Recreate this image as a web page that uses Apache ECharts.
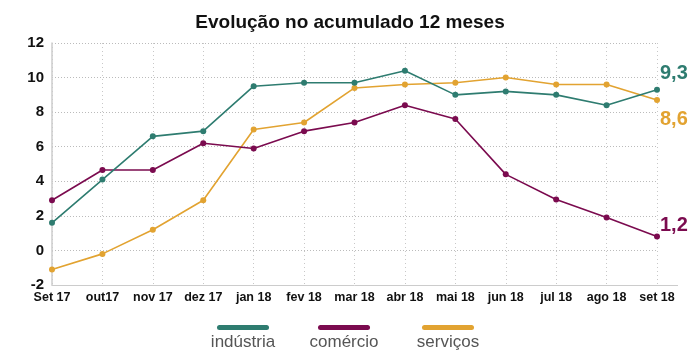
<!DOCTYPE html>
<html>
<head>
<meta charset="utf-8">
<script src="https://cdn.jsdelivr.net/npm/echarts@6/dist/echarts.min.js"></script>
<style>html,body{margin:0;padding:0;background:#fff}#c{width:700px;height:359px}</style>
</head>
<body>
<div id="c"></div>
<script>
const title = 'Evolução no acumulado 12 meses';
const categories = ['Set 17','out17','nov 17','dez 17','jan 18','fev 18','mar 18','abr 18','mai 18','jun 18','jul 18','ago 18','set 18'];
const seriesNames = ['indústria','comércio','serviços'];
const industria = [1.6, 4.1, 6.6, 6.9, 9.5, 9.7, 9.7, 10.4, 9.0, 9.2, 9.0, 8.4, 9.3];
const comercio  = [2.9, 4.65, 4.65, 6.2, 5.9, 6.9, 7.4, 8.4, 7.6, 4.4, 2.95, 1.9, 0.8];
const servicos  = [-1.1, -0.2, 1.2, 2.9, 7.0, 7.4, 9.4, 9.6, 9.7, 10.0, 9.6, 9.6, 8.7];
const endLabels = ['9,3','1,2','8,6'];
const yTicks = {min: -2, max: 12, interval: 2};

const colors = ['#2E7C70','#7B0B4F','#E2A331'];
const endOffsets = [[-2,-16],[-2,-11],[-2,19]];
const font = '"Liberation Sans", Arial, Helvetica, sans-serif';
const dataSets = [industria, comercio, servicos];

const chart = echarts.init(document.getElementById('c'), null, {renderer:'canvas'});
const legendCenters = [243, 344, 448];
const graphics = [];
seriesNames.forEach((n,i)=>{
  graphics.push({type:'rect', shape:{x:legendCenters[i]-26, y:325, width:52, height:5, r:2.5}, style:{fill:colors[i]}});
  graphics.push({type:'text', x:legendCenters[i], y:342, style:{text:n, fill:'#555', font:'17px ' + font, align:'center', verticalAlign:'middle'}});
});
graphics.push({type:'line', shape:{x1:657, y1:285.5, x2:678, y2:285.5}, style:{stroke:'#ccc', lineWidth:1}});

chart.setOption({
  animation:false,
  backgroundColor:'#fff',
  title:{text:title, left:'center', top:8, textStyle:{fontFamily:font, fontWeight:'bold', fontSize:19, color:'#111'}},
  grid:{left:52, right:43, top:43, bottom:74, containLabel:false},
  xAxis:{type:'category', data:categories, boundaryGap:false,
    axisLine:{show:true, onZero:false, lineStyle:{color:'#ccc', width:1}},
    axisTick:{show:false},
    axisLabel:{color:'#111', fontWeight:'bold', fontSize:12.5, fontFamily:font, margin:6, interval:0},
    splitLine:{show:true, lineStyle:{color:'#c8c8c8', type:[1,3], width:1}}
  },
  yAxis:{type:'value', min:yTicks.min, max:yTicks.max, interval:yTicks.interval,
    axisLine:{show:true, lineStyle:{color:'#ccc', width:1.5}},
    axisTick:{show:false},
    axisLabel:{color:'#111', fontWeight:'bold', fontSize:15, fontFamily:font, margin:8},
    splitLine:{show:true, lineStyle:{color:'#bbb', type:[1,2], width:1}}
  },
  series: seriesNames.map((n,i)=>({
    name:n, type:'line', data:dataSets[i],
    symbol:'circle', symbolSize:6,
    lineStyle:{color:colors[i], width:1.6},
    itemStyle:{color:colors[i]},
    endLabel:{show:true, formatter:()=>endLabels[i], color:colors[i], fontWeight:'bold', fontSize:20, fontFamily:font, offset:endOffsets[i], distance:5},
    z: 3 - i
  })),
  graphic: graphics
});
</script>
</body>
</html>
